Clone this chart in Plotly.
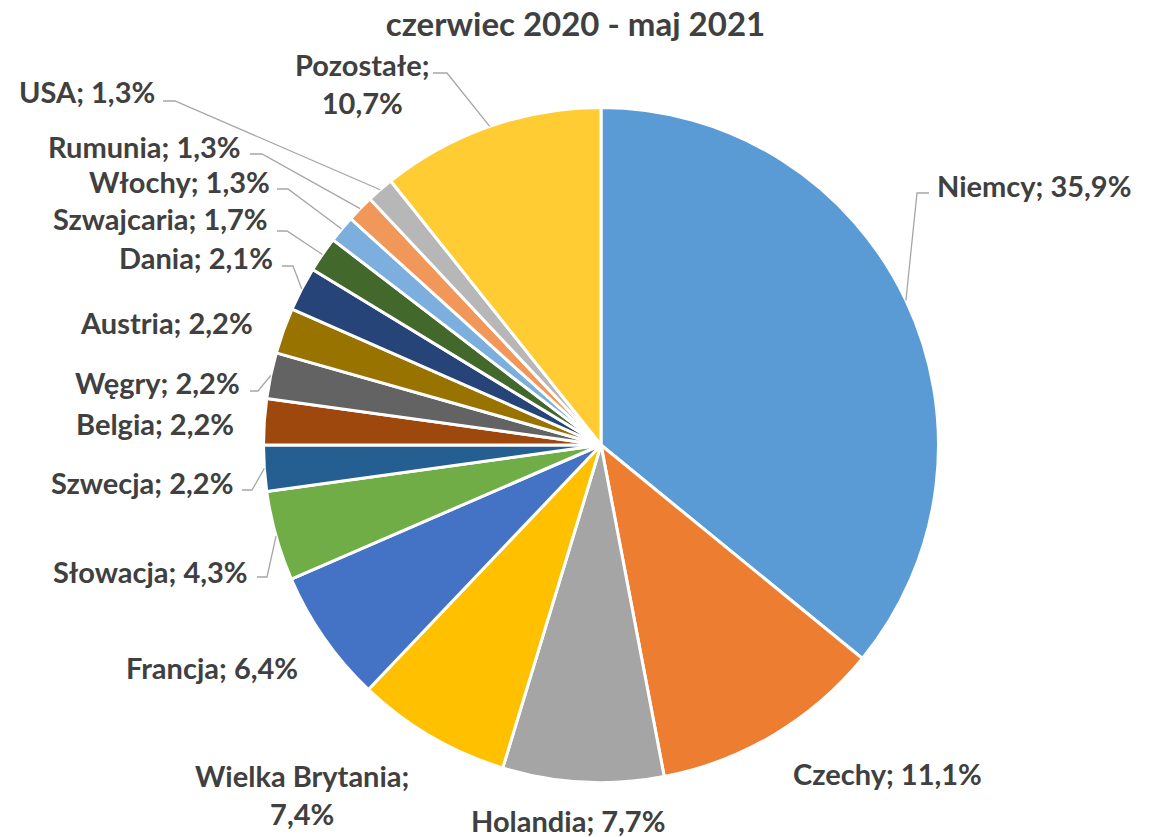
import math
import plotly.graph_objects as go

# ---------------- data ----------------
countries = ["Niemcy", "Czechy", "Holandia", "Wielka Brytania", "Francja", "Słowacja",
             "Szwecja", "Belgia", "Węgry", "Austria", "Dania", "Szwajcaria",
             "Włochy", "Rumunia", "USA", "Pozostałe"]
shares = [35.9, 11.1, 7.7, 7.4, 6.4, 4.3, 2.2, 2.2, 2.2, 2.2, 2.1, 1.7, 1.3, 1.3, 1.3, 10.7]
title_text = "czerwiec 2020 - maj 2021"

# ---------------- style / layout ----------------
colors = ["#5B9BD5", "#ED7D31", "#A5A5A5", "#FFC000", "#4472C4", "#70AD47",
          "#255E91", "#9E480E", "#636363", "#997300", "#264478", "#43682B",
          "#7CAFDD", "#F1975A", "#B7B7B7", "#FFCD33"]
OFF = 8                      # default page body margin
W, H = 1163 - OFF, 837 - OFF
CX, CY, R = 601, 445, 337.5  # page-pixel geometry of the pie
FONT = "Lato"
FSIZE = 29
TXT = "#404040"
LEADER = "#A6A6A6"

# label placement (page pixel x, pixel y centre, anchor, two-line?)
label_x = [935, 887, 568, 302, 300, 250, 235, 236, 242, 255, 275, 270, 272, 243, 157, 362]
label_y = [185, 773, 820, 794, 667, 571, 482, 423, 382, 322, 258, 219, 181, 146, 92, 84]
label_anchor = ["left", "center", "center", "center", "right", "right", "right", "right",
                "right", "right", "right", "right", "right", "right", "right", "center"]
two_line = [False, False, False, True, False, False, False, False, False, False, False,
            False, False, False, False, True]
# leader start point next to the label (None = no leader), and horizontal run length
leader_start = [(929, 193), None, None, None, None, (257, 577), (242, 490), None,
                (250, 391), None, (282, 266), (277, 231), (277, 189), (250, 154),
                (163, 101), (433, 73)]
leader_run = [-12, 0, 0, 0, 0, 10, 10, 0, 8, 0, 11, 10, 11, 12, 12, 14]


def px(x):
    return (x - OFF) / W


def py(y):
    return 1 - (y - OFF) / H


def fmt(v):
    return f"{v:.1f}".replace(".", ",") + "%"


fig = go.Figure(go.Pie(
    labels=countries, values=shares, sort=False, direction="clockwise", rotation=0,
    marker=dict(colors=colors, line=dict(color="white", width=3)),
    textinfo="none", hoverinfo="label+percent",
    domain=dict(x=[px(CX - R), px(CX + R)], y=[py(CY + R), py(CY - R)]),
    showlegend=False,
))

annotations = []
shapes = []
total = sum(shares)
cum = 0.0
for i, (name, v) in enumerate(zip(countries, shares)):
    mid = (cum + v / 2) / total
    cum += v
    ang = 2 * math.pi * mid
    sx = CX + R * math.sin(ang)
    sy = CY - R * math.cos(ang)
    sep = "<br>" if two_line[i] else " "
    text = f"{name};{sep}{fmt(v)}"
    annotations.append(dict(
        x=px(label_x[i]), y=py(label_y[i]), xref="paper", yref="paper",
        text=text, showarrow=False, xanchor=label_anchor[i], yanchor="middle",
        align="center", font=dict(family=FONT, size=FSIZE, color=TXT, weight="bold"),
    ))
    if leader_start[i] is not None:
        x0, y0 = leader_start[i]
        x1 = x0 + leader_run[i]
        path = (f"M {px(x0)} {py(y0)} L {px(x1)} {py(y0)} L {px(sx)} {py(sy)}")
        shapes.append(dict(type="path", path=path, xref="paper", yref="paper",
                           line=dict(color=LEADER, width=1.3)))

fig.update_layout(
    width=W, height=H, margin=dict(l=0, r=0, t=0, b=0),
    paper_bgcolor="white", plot_bgcolor="white",
    title=dict(text=title_text, x=px(575.5), y=py(24), xanchor="center", yanchor="middle",
               font=dict(family=FONT, size=33, color=TXT, weight="bold")),
    annotations=annotations, shapes=shapes,
)

fig.write_html("out.html")
